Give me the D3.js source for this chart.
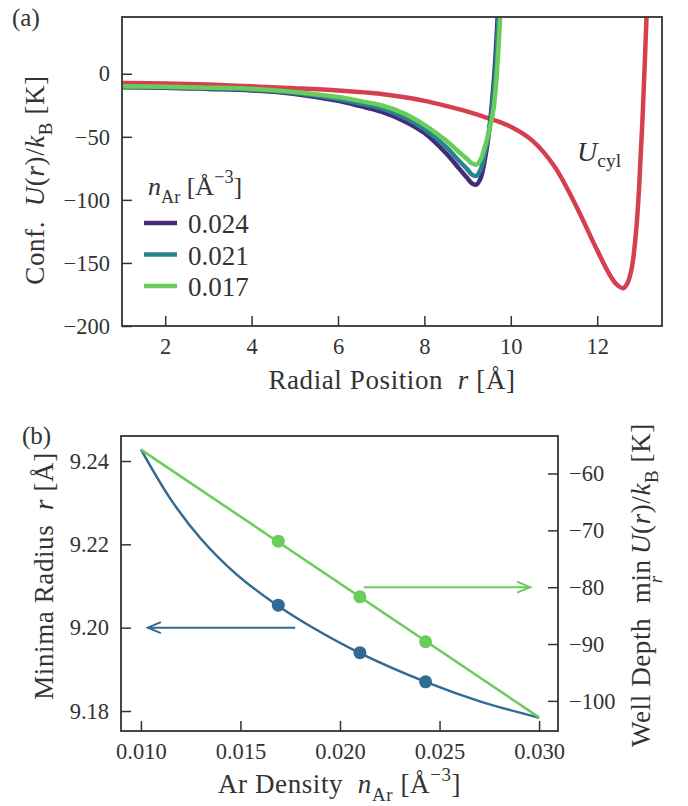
<!DOCTYPE html>
<html>
<head>
<meta charset="utf-8">
<script src="https://cdn.jsdelivr.net/npm/d3@7"></script>
<style>
  body { margin: 0; background: #fff; }
  text { font-family: "Liberation Serif", serif; fill: #333; white-space: pre; }
</style>
</head>
<body>
<svg id="fig" width="688" height="806"></svg>
<script>
// ---- panel (a): confinement potentials ----
const densityLabels = ["0.024", "0.021", "0.017"];
const densityColors = ["#472a7a", "#25848e", "#6acd5b"];

const rDense024 = [1, 2, 3, 4, 5, 6, 6.5, 7, 7.5, 8, 8.5, 8.8, 9.0, 9.1, 9.2, 9.3, 9.4, 9.5, 9.55, 9.62, 9.7];
const uDense024 = [-10.7, -11, -12, -13.2, -16, -21.5, -25.5, -30, -37, -47, -63, -75, -83, -87, -88, -83, -68, -45, -28, 0, 48];

const rDense021 = [1, 2, 3, 4, 5, 6, 6.5, 7, 7.5, 8, 8.5, 8.8, 9.0, 9.1, 9.2, 9.3, 9.4, 9.5, 9.57, 9.64, 9.72];
const uDense021 = [-10.4, -10.7, -11.5, -12.6, -15.2, -20, -23.5, -27.5, -34, -44, -58, -69, -76, -80, -81, -76, -63, -44, -26, 0, 48];

const rDense017 = [1, 2, 3, 4, 5, 6, 6.5, 7, 7.5, 8, 8.5, 8.8, 9.0, 9.1, 9.2, 9.3, 9.4, 9.5, 9.6, 9.65, 9.7, 9.76];
const uDense017 = [-10, -10.3, -11, -12, -14.5, -18.5, -21.5, -25, -31, -40.5, -53, -62, -68, -71, -72, -68, -58, -45, -28, -12, 12, 50];

const rCyl = [1, 2, 3, 4, 5, 6, 7, 7.5, 8, 8.5, 9, 9.5, 10, 10.5, 11, 11.5, 12, 12.3, 12.45, 12.6, 12.7, 12.8, 12.9, 12.97, 13.05, 13.14, 13.2];
const uCyl = [-7.4, -7.8, -8.6, -10, -11.5, -13.3, -16, -18.5, -21.5, -25.5, -30, -35.5, -42, -53, -73, -104, -140, -160, -167, -170, -166, -154, -125, -90, -35, 44, 100];

const xTicksA = [2, 4, 6, 8, 10, 12];
const yTicksA = [-200, -150, -100, -50, 0];

// ---- panel (b): minima vs density ----
const nMeasured = [0.0169, 0.0210, 0.0243];
const rMinima = [9.2054, 9.1940, 9.1870];
const wellDepth = [-71.9, -81.7, -89.6];

const nFitR = [0.010, 0.0115, 0.013, 0.0148, 0.0169, 0.0186, 0.021, 0.0244, 0.0271, 0.030];
const rFit = [9.2428, 9.2308, 9.2214, 9.2128, 9.2052, 9.2001, 9.1939, 9.1868, 9.1822, 9.1784];
const nFitW = [0.010, 0.030];
const wFit = [-55.8, -102.9];

const xTicksB = [0.010, 0.015, 0.020, 0.025, 0.030];
const yTicksBLeft = [9.18, 9.20, 9.22, 9.24];
const yTicksBRight = [-60, -70, -80, -90, -100];

const cylColor = "#d6404e";
const radiusColor = "#316a93";
const depthColor = "#6acd5b";
const ink = "#333";

const svg = d3.select("#fig");

// text with italic / sub / sup pieces
function rich(sel, parts, size) {
  let shift = 0;
  parts.forEach(p => {
    const ts = sel.append("tspan").text(p.t);
    let target = 0;
    if (p.sub) target = p.low != null ? p.low : 0.3 * size;
    if (p.sup) target = -0.45 * size;
    if (target !== shift) ts.attr("dy", target - shift);
    shift = target;
    ts.attr("font-size", (p.sub || p.sup) ? size * 0.7 : size);
    if (p.i) ts.attr("font-style", "italic");
    if (p.dx) ts.attr("dx", p.dx);
  });
  return sel;
}

function styleAxis(g) {
  g.select(".domain").remove();
  g.selectAll(".tick line").attr("stroke", ink).attr("stroke-width", 1.5);
  g.selectAll(".tick text").attr("font-size", 22.5).attr("fill", ink)
    .style("font-family", '"Liberation Serif", serif');
}

const smooth = d3.curveCatmullRom.alpha(0.5);

// ================= panel (a) =================
const A = { left: 122, top: 17, width: 540, height: 309 };
const xA = d3.scaleLinear().domain([1, 13.5]).range([0, A.width]);
const yA = d3.scaleLinear().domain([-200, 45]).range([A.height, 0]);

const gA = svg.append("g").attr("transform", `translate(${A.left},${A.top})`);
gA.append("clipPath").attr("id", "clipA")
  .append("rect").attr("width", A.width).attr("height", A.height);

const lineA = d3.line().x(d => xA(d[0])).y(d => yA(d[1])).curve(smooth);
const plotA = gA.append("g").attr("clip-path", "url(#clipA)");

plotA.append("path").datum(d3.zip(rCyl, uCyl)).attr("d", lineA)
  .attr("fill", "none").attr("stroke", cylColor).attr("stroke-width", 4.5);

const curvesA = [d3.zip(rDense024, uDense024), d3.zip(rDense021, uDense021), d3.zip(rDense017, uDense017)];
curvesA.forEach((c, i) => {
  plotA.append("path").datum(c).attr("d", lineA)
    .attr("fill", "none").attr("stroke", densityColors[i]).attr("stroke-width", 4.5);
});

gA.append("g").attr("transform", `translate(0,${A.height})`)
  .call(d3.axisBottom(xA).tickValues(xTicksA).tickSize(-10).tickPadding(12))
  .call(styleAxis);
gA.append("g")
  .call(d3.axisLeft(yA).tickValues(yTicksA).tickSize(-10).tickPadding(12))
  .call(styleAxis);

gA.append("rect").attr("width", A.width).attr("height", A.height)
  .attr("fill", "none").attr("stroke", ink).attr("stroke-width", 1.8);

// legend
const legA = gA.append("g").attr("transform", "translate(22,0)");
rich(legA.append("text").attr("x", 4).attr("y", 178), [
  { t: "n", i: true }, { t: "Ar", sub: true }, { t: " [Å" }, { t: "−3", sup: true }, { t: "]" }
], 26);
densityLabels.forEach((lab, i) => {
  const y = 206 + i * 31.5;
  legA.append("line").attr("x1", 0).attr("x2", 33).attr("y1", y).attr("y2", y)
    .attr("stroke", densityColors[i]).attr("stroke-width", 4.5);
  legA.append("text").attr("x", 44).attr("y", y + 10).attr("font-size", 27).text(lab);
});

rich(gA.append("text").attr("x", 455).attr("y", 144), [
  { t: "U", i: true }, { t: "cyl", sub: true, low: 6 }
], 28);

// axis labels
const labelSpacing = "0.6px";
rich(svg.append("text").attr("x", A.left + A.width / 2).attr("y", 389).attr("text-anchor", "middle")
  .style("letter-spacing", labelSpacing), [
  { t: "Radial Position  " }, { t: "r", i: true }, { t: " [Å]" }
], 27);
rich(svg.append("text").attr("transform", "translate(44,180) rotate(-90)").attr("text-anchor", "middle")
  .style("letter-spacing", labelSpacing), [
  { t: "Conf.  " }, { t: "U", i: true }, { t: "(" }, { t: "r", i: true }, { t: ")/" },
  { t: "k", i: true }, { t: "B", sub: true }, { t: " [K]" }
], 27);
svg.append("text").attr("x", 12).attr("y", 26).attr("font-size", 25).text("(a)");

// ================= panel (b) =================
const B = { left: 121, top: 436, width: 437, height: 295 };
const xB = d3.scaleLinear().domain([0.009, 0.03095]).range([0, B.width]);
const yBL = d3.scaleLinear().domain([9.1752, 9.246]).range([B.height, 0]);
const yBR = d3.scaleLinear().domain([-105.3, -53.4]).range([B.height, 0]);

const gB = svg.append("g").attr("transform", `translate(${B.left},${B.top})`);

gB.append("path").datum(d3.zip(nFitR, rFit))
  .attr("d", d3.line().x(d => xB(d[0])).y(d => yBL(d[1])).curve(smooth))
  .attr("fill", "none").attr("stroke", radiusColor).attr("stroke-width", 2.5);
gB.append("path").datum(d3.zip(nFitW, wFit))
  .attr("d", d3.line().x(d => xB(d[0])).y(d => yBR(d[1])))
  .attr("fill", "none").attr("stroke", depthColor).attr("stroke-width", 2.5);

gB.selectAll("circle.rad").data(d3.zip(nMeasured, rMinima)).enter().append("circle")
  .attr("class", "rad").attr("cx", d => xB(d[0])).attr("cy", d => yBL(d[1])).attr("r", 6.5)
  .attr("fill", radiusColor);
gB.selectAll("circle.dep").data(d3.zip(nMeasured, wellDepth)).enter().append("circle")
  .attr("class", "dep").attr("cx", d => xB(d[0])).attr("cy", d => yBR(d[1])).attr("r", 6.5)
  .attr("fill", depthColor);

// arrows pointing to each curve's axis
const defs = svg.append("defs");
[["arrB", radiusColor], ["arrG", depthColor]].forEach(([id, c]) => {
  defs.append("marker").attr("id", id).attr("markerUnits", "userSpaceOnUse")
    .attr("viewBox", "-16 -9 20 18").attr("markerWidth", 20).attr("markerHeight", 18)
    .attr("refX", 0).attr("refY", 0).attr("orient", "auto")
    .append("path").attr("d", "M-13,-5.5L0,0L-13,5.5")
    .attr("fill", "none").attr("stroke", c).attr("stroke-width", 2);
});
gB.append("line").attr("x1", xB(0.01775)).attr("x2", xB(0.01035))
  .attr("y1", yBL(9.20)).attr("y2", yBL(9.20))
  .attr("stroke", radiusColor).attr("stroke-width", 2).attr("marker-end", "url(#arrB)");
gB.append("line").attr("x1", xB(0.0212)).attr("x2", xB(0.02955))
  .attr("y1", yBR(-80)).attr("y2", yBR(-80))
  .attr("stroke", depthColor).attr("stroke-width", 2).attr("marker-end", "url(#arrG)");

gB.append("g").attr("transform", `translate(0,${B.height})`)
  .call(d3.axisBottom(xB).tickValues(xTicksB).tickFormat(d3.format(".3f")).tickSize(-10).tickPadding(12))
  .call(styleAxis);
gB.append("g")
  .call(d3.axisLeft(yBL).tickValues(yTicksBLeft).tickFormat(d3.format(".2f")).tickSize(-10).tickPadding(12))
  .call(styleAxis);
gB.append("g").attr("transform", `translate(${B.width},0)`)
  .call(d3.axisRight(yBR).tickValues(yTicksBRight).tickSize(-10).tickPadding(11))
  .call(styleAxis);

gB.append("rect").attr("width", B.width).attr("height", B.height)
  .attr("fill", "none").attr("stroke", ink).attr("stroke-width", 1.8);

rich(svg.append("text").attr("x", B.left + B.width / 2).attr("y", 793).attr("text-anchor", "middle")
  .style("letter-spacing", labelSpacing), [
  { t: "Ar Density  " }, { t: "n", i: true }, { t: "Ar", sub: true }, { t: " [Å" }, { t: "−3", sup: true }, { t: "]" }
], 27);
rich(svg.append("text").attr("transform", "translate(53,576) rotate(-90)").attr("text-anchor", "middle")
  .style("letter-spacing", labelSpacing), [
  { t: "Minima Radius  " }, { t: "r", i: true }, { t: " [Å]" }
], 27);
rich(svg.append("text").attr("transform", "translate(650,585) rotate(-90)").attr("text-anchor", "middle")
  .style("letter-spacing", labelSpacing), [
  { t: "Well Depth  min" }, { t: "r", i: true, sub: true, low: 12, dx: -24 },
  { t: " " , dx: 14 }, { t: "U", i: true }, { t: "(" }, { t: "r", i: true }, { t: ")/" },
  { t: "k", i: true }, { t: "B", sub: true }, { t: " [K]" }
], 27);
svg.append("text").attr("x", 22).attr("y", 444).attr("font-size", 25).text("(b)");
</script>
</body>
</html>
